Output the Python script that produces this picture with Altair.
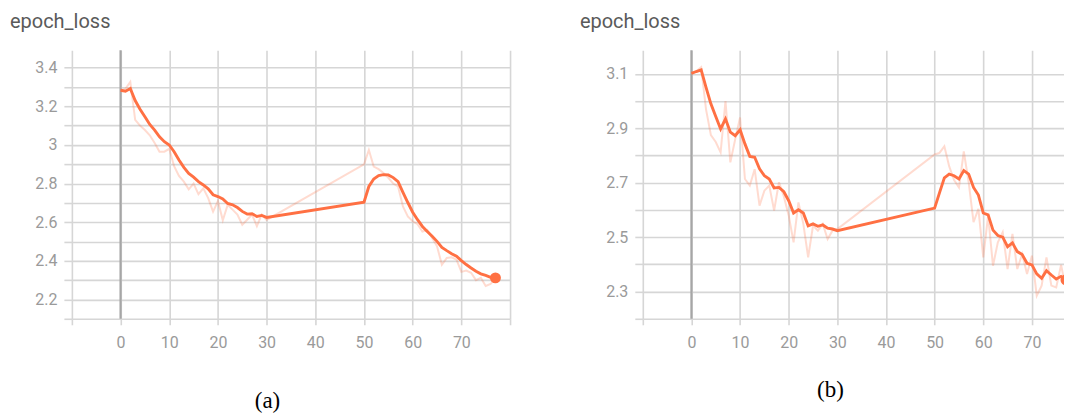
import altair as alt
import pandas as pd

# ---------------- data ----------------
epochs = list(range(0, 31)) + list(range(50, 78))

a_raw = [3.283, 3.29, 3.326, 3.13, 3.1, 3.077, 3.05, 3.01, 2.965, 2.965, 2.98,
         2.89, 2.84, 2.81, 2.77, 2.8, 2.745, 2.775, 2.725, 2.655, 2.71, 2.61,
         2.69, 2.665, 2.64, 2.587, 2.613, 2.64, 2.58, 2.64, 2.612,
         2.9, 2.974, 2.888, 2.875, 2.855, 2.83, 2.8, 2.785, 2.682, 2.63, 2.605,
         2.59, 2.552, 2.56, 2.518, 2.475, 2.38, 2.415, 2.418, 2.406, 2.343,
         2.35, 2.338, 2.3, 2.312, 2.27, 2.28, 2.31]
a_smooth = [3.283, 3.278, 3.292, 3.23, 3.185, 3.146, 3.106, 3.077, 3.042, 3.017,
            3.0, 2.965, 2.922, 2.884, 2.853, 2.833, 2.81, 2.793, 2.773, 2.742,
            2.733, 2.721, 2.697, 2.69, 2.676, 2.656, 2.642, 2.644, 2.63, 2.635,
            2.625,
            2.704, 2.785, 2.824, 2.841, 2.846, 2.845, 2.831, 2.81, 2.755, 2.702,
            2.652, 2.613, 2.578, 2.552, 2.527, 2.501, 2.47, 2.453, 2.437, 2.424,
            2.401, 2.381, 2.363, 2.346, 2.333, 2.325, 2.315, 2.312]

b_raw = [3.102, 3.11, 3.125, 2.97, 2.875, 2.85, 2.812, 3.0, 2.775, 2.86, 2.94,
         2.714, 2.69, 2.75, 2.616, 2.671, 2.69, 2.598, 2.702, 2.65, 2.58, 2.481,
         2.628, 2.55, 2.426, 2.543, 2.524, 2.549, 2.493, 2.524, 2.53,
         2.804, 2.81, 2.834, 2.76, 2.71, 2.683, 2.815, 2.702, 2.555, 2.604,
         2.426, 2.579, 2.395, 2.481, 2.518, 2.383, 2.512, 2.383, 2.438, 2.365,
         2.432, 2.285, 2.322, 2.426, 2.322, 2.315, 2.398, 2.31]
b_smooth = [3.102, 3.109, 3.115, 3.051, 2.99, 2.944, 2.898, 2.935, 2.886, 2.873,
            2.895, 2.843, 2.797, 2.794, 2.751, 2.726, 2.714, 2.681, 2.683, 2.667,
            2.634, 2.589, 2.601, 2.589, 2.542, 2.549, 2.54, 2.545, 2.533, 2.53,
            2.524,
            2.607, 2.663, 2.718, 2.732, 2.726, 2.714, 2.745, 2.732, 2.683, 2.655,
            2.589, 2.582, 2.526, 2.506, 2.5, 2.465, 2.479, 2.447, 2.436, 2.404,
            2.398, 2.365, 2.349, 2.377, 2.361, 2.346, 2.356, 2.343]

a_x_ticks = [-10, 0, 10, 20, 30, 40, 50, 60, 70, 80]
b_x_ticks = [-10, 0, 10, 20, 30, 40, 50, 60, 70]
a_y_ticks = [2.1, 2.2, 2.3, 2.4, 2.5, 2.6, 2.7, 2.8, 2.9, 3.0, 3.1, 3.2, 3.3, 3.4]
b_y_ticks = [2.2, 2.3, 2.4, 2.5, 2.6, 2.7, 2.8, 2.9, 3.0, 3.1]

ORANGE = "#ff7043"
GRID = "#d6d6d6"
LABEL = "#9a9a9a"


def panel(raw, smooth, x_ticks, y_ticks, y_dom, x_max, width, label_parity,
          caption, cap_x, cap_y, title_dx):
    df = pd.DataFrame({
        "epoch": epochs * 2,
        "loss": raw + smooth,
        "series": ["raw"] * len(raw) + ["smooth"] * len(smooth),
    })
    xs = alt.Scale(domain=[-10, x_max], nice=False, zero=False)
    ys = alt.Scale(domain=y_dom, nice=False, zero=False)
    xax = alt.Axis(values=x_ticks, grid=True, gridColor=GRID, gridWidth=1.6,
                   tickColor=GRID, tickWidth=1.6, tickSize=6, domain=False,
                   labelColor=LABEL, labelFont="Roboto", labelFontSize=16,
                   labelPadding=10, title=None,
                   labelExpr="datum.value < 0 || datum.value > 70 ? '' : datum.label")
    yax = alt.Axis(values=y_ticks, grid=True, gridColor=GRID, gridWidth=1.6,
                   tickColor=GRID, tickWidth=1.6, tickSize=8, domain=False,
                   labelColor=LABEL, labelFont="Roboto", labelFontSize=16,
                   labelPadding=7, title=None,
                   labelExpr=f"round(datum.value*10) % 2 == {label_parity} ? format(datum.value, '~g') : ''")
    base = alt.Chart(df).encode(
        x=alt.X("epoch:Q", scale=xs, axis=xax),
        y=alt.Y("loss:Q", scale=ys, axis=yax),
    )
    zero = alt.Chart(pd.DataFrame({"z": [0]})).mark_rule(
        color="#a6a6a6", strokeWidth=2.2).encode(x=alt.X("z:Q", scale=xs))
    raw_l = base.transform_filter("datum.series == 'raw'").mark_line(
        color=ORANGE, opacity=0.25, strokeWidth=2, clip=True)
    sm_l = base.transform_filter("datum.series == 'smooth'").mark_line(
        color=ORANGE, strokeWidth=2.9, clip=True)
    last = base.transform_filter(
        "datum.series == 'smooth' && datum.epoch == 77").mark_circle(
        color=ORANGE, opacity=1, size=120, clip=True)
    cap = alt.Chart(pd.DataFrame({"t": [caption]})).mark_text(
        font="Liberation Serif", fontSize=23, color="black",
        baseline="middle", align="center").encode(
        x=alt.value(cap_x), y=alt.value(cap_y), text="t:N")
    return alt.layer(zero, raw_l, sm_l, last, cap).properties(
        width=width, height=269,
        title=alt.TitleParams("epoch_loss", anchor="start", frame="group",
                              dx=title_dx, offset=1, baseline="alphabetic",
                              font="Roboto", fontSize=20, fontWeight="normal",
                              color="#5a5a5a"),
    )


left = panel(a_raw, a_smooth, a_x_ticks, a_y_ticks, [2.1, 3.49], 80, 439, 0,
             "(a)", 196, 351, -62)
right = panel(b_raw, b_smooth, b_x_ticks, b_y_ticks, [2.2, 3.187], 76.6, 422, 1,
              "(b)", 188, 340, -63)

chart = alt.hconcat(left, right, spacing=69).properties(
    padding={"left": 2, "top": 3, "right": 0, "bottom": 0}
).configure_view(stroke=None)

chart.save("out.html", embed_options={"renderer": "svg", "actions": False})
